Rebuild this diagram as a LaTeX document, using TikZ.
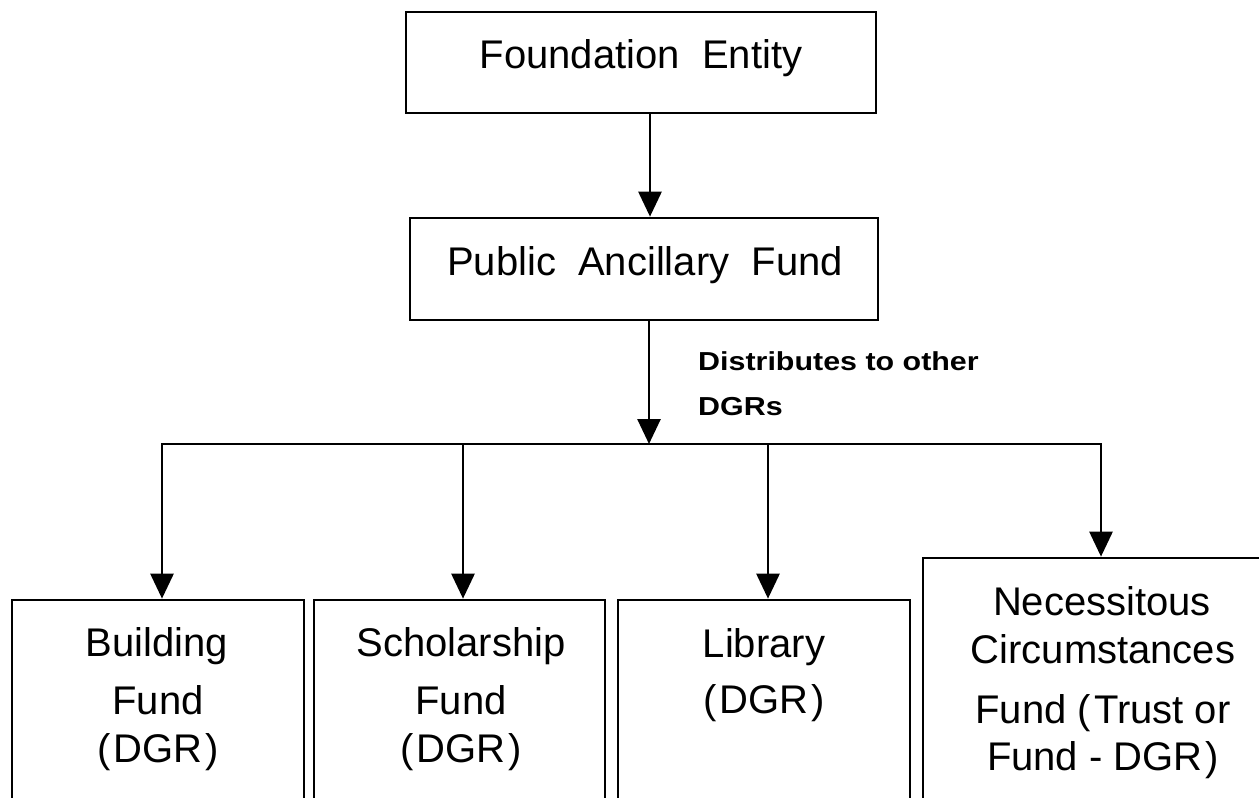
\documentclass[tikz,border=0pt]{standalone}
\usepackage{fontspec}
\usepackage{graphicx}
\setmainfont{Liberation Sans}
\usetikzlibrary{arrows.meta}
\begin{document}
\begin{tikzpicture}[x=1pt,y=-1pt,
  box/.style={draw, line width=2.7pt, inner sep=0pt, fill=white},
  txt/.style={font=\fontsize{40}{48}\selectfont, anchor=base, inner sep=0pt},
  lbl/.style={font=\fontsize{26}{32}\selectfont\bfseries, anchor=base west, inner sep=0pt},
  arr/.style={line width=2.7pt, -{Triangle[width=23pt,length=25pt]}}
]
\useasboundingbox (0,0) rectangle (1259,798);
\clip (0,0) rectangle (1259,798);
\fill[white] (0,0) rectangle (1259,798);

% boxes
\node[box, minimum width=470pt, minimum height=101pt] (fe) at (641,62.5) {};
\node[box, minimum width=468pt, minimum height=102pt] (paf) at (644,269) {};
\node[box, minimum width=292pt, minimum height=300pt] (bf) at (158,750) {};
\node[box, minimum width=291pt, minimum height=300pt] (sf) at (459.5,750) {};
\node[box, minimum width=292pt, minimum height=300pt] (lib) at (764,750) {};
\node[box, minimum width=367pt, minimum height=342pt] (nc) at (1106.5,729) {};

% texts
\node[txt] (tfe) at (641,68) {Foundation\ \ Entity};
\node[txt] (tpaf) at (645,275) {Public\ \ Ancillary\ \ Fund};

\node[txt] (tbf1) at (157,656) {Building};
\node[txt] (tbf2) at (158,714) {Fund};
\node[txt] (tbf3) at (158,762) {(\kern3pt DGR\kern3pt)};

\node[txt] (tsf1) at (461,656) {Scholarship};
\node[txt] (tsf2) at (461,714) {Fund};
\node[txt] (tsf3) at (461,762) {(\kern3pt DGR\kern3pt)};

\node[txt] (tlib1) at (764,657) {Library};
\node[txt] (tlib2) at (764,713) {(\kern3pt DGR\kern3pt)};

\node[txt] (tnc1) at (1102,615) {Necessitous};
\node[txt] (tnc2) at (1103,663) {Circumstances};
\node[txt] (tnc3) at (1103,723) {Fund (\kern3pt Trust or};
\node[txt] (tnc4) at (1103,770) {Fund - DGR\kern3pt)};

\node[lbl] (lab1) at (698,370) {\scalebox{1.17}[1]{Distributes to other}};
\node[lbl] (lab2) at (698,415) {\scalebox{1.17}[1]{DGRs}};

% connectors
\coordinate (a1) at (650,0);
\draw[arr] (fe.south -| a1) -- (paf.north -| a1);
\coordinate (jc) at (649,444);
\draw[arr] (paf.south -| jc) -- (jc);
\coordinate (j1) at (162,444);
\coordinate (j2) at (463,444);
\coordinate (j3) at (768,444);
\coordinate (j4) at (1101,444);
\draw[arr] (j4) -- (j1) -- (j1 |- bf.north);
\draw[arr] (j1) -- (j4) -- (j4 |- nc.north);
\draw[arr] (j2) -- (j2 |- sf.north);
\draw[arr] (j3) -- (j3 |- lib.north);
\end{tikzpicture}
\end{document}
